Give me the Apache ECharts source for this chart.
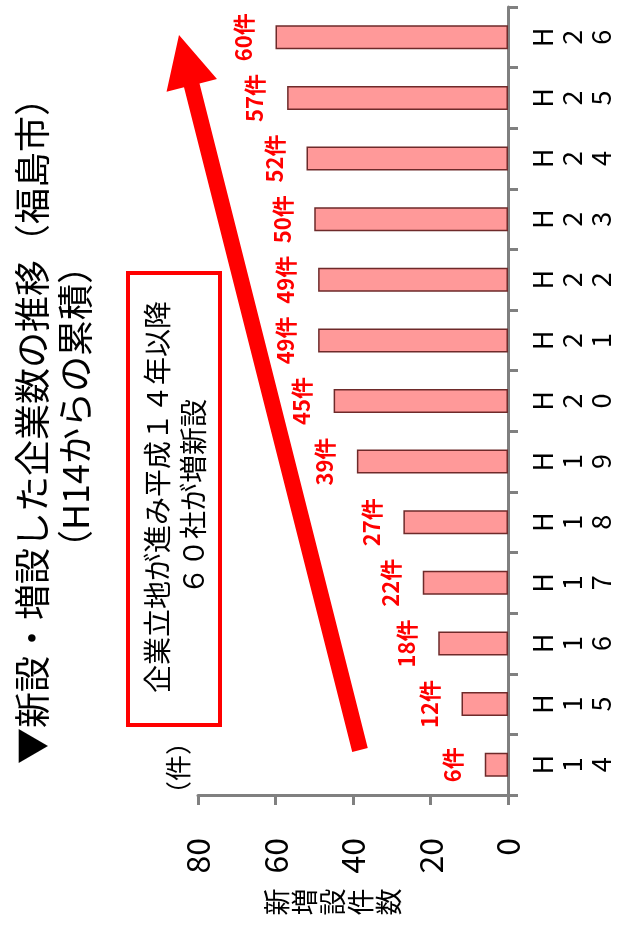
<!DOCTYPE html>
<html>
<head>
<meta charset="utf-8">
<script src="https://cdn.jsdelivr.net/npm/echarts@6/dist/echarts.min.js"></script>
<style>
html,body{margin:0;padding:0;background:#fff;}
#chart{width:637px;height:932px;}
</style>
</head>
<body>
<div id="chart"></div>
<script>
const categories = ['H14','H15','H16','H17','H18','H19','H20','H21','H22','H23','H24','H25','H26'];
const counts = [6, 12, 18, 22, 27, 39, 45, 49, 49, 50, 52, 57, 60];
const valueMin = 0, valueMax = 80, valueStep = 20;
const titleLine1 = '▼新設・増設した企業数の推移（福島市）';
const titleLine2 = '（H14からの累積）';
const axisTitle = '新増設件数';
const unitLabel = '（件）';
const noteText = '企業立地が進み平成１４年以降\n６０社が増新設';

const FONT = '"Noto Sans CJK JP", "Noto Sans", sans-serif';

// arrow decoration geometry
function arrowPoints(tail, tip, shaftHalf, headLen, headHalf) {
  const dx = tip[0] - tail[0], dy = tip[1] - tail[1];
  const L = Math.sqrt(dx * dx + dy * dy);
  const ux = dx / L, uy = dy / L;
  const nx = -uy, ny = ux;
  const bx = tip[0] - ux * headLen, by = tip[1] - uy * headLen;
  return [
    [tail[0] + nx * shaftHalf, tail[1] + ny * shaftHalf],
    [bx + nx * shaftHalf, by + ny * shaftHalf],
    [bx + nx * headHalf, by + ny * headHalf],
    [tip[0], tip[1]],
    [bx - nx * headHalf, by - ny * headHalf],
    [bx - nx * shaftHalf, by - ny * shaftHalf],
    [tail[0] - nx * shaftHalf, tail[1] - ny * shaftHalf]
  ];
}

const chart = echarts.init(document.getElementById('chart'));
const option = {
  backgroundColor: '#fff',
  animation: false,
  grid: { left: 198, right: 129, top: 7, bottom: 137, containLabel: false },
  xAxis: {
    type: 'value',
    inverse: true,
    position: 'bottom',
    min: valueMin, max: valueMax, interval: valueStep,
    splitLine: { show: false },
    axisLine: { show: true, onZero: false, lineStyle: { color: '#808080', width: 3 } },
    axisTick: { show: true, length: 10, lineStyle: { color: '#808080', width: 3 } },
    axisLabel: {
      rotate: 90, margin: 43, fontSize: 32, color: '#000', fontFamily: FONT,
      align: 'right', verticalAlign: 'middle'
    }
  },
  yAxis: {
    type: 'category',
    data: categories,
    position: 'right',
    axisLine: { show: true, onZero: false, lineStyle: { color: '#808080', width: 3 } },
    axisTick: { show: true, length: 10, lineStyle: { color: '#808080', width: 3 } },
    axisLabel: {
      rotate: 90, margin: 20, fontSize: 27, lineHeight: 29, color: '#000', fontFamily: FONT,
      align: 'center', verticalAlign: 'top',
      formatter: v => v.split('').join('\n')
    }
  },
  series: [{
    type: 'bar',
    data: counts,
    barWidth: 24,
    itemStyle: { color: '#FF9999', borderColor: '#6e2a2a', borderWidth: 1.5 },
    label: {
      show: true, position: 'left', distance: 32, rotate: 90,
      align: 'center', verticalAlign: 'middle',
      color: '#FF0000', fontWeight: 'bold', fontSize: 22, fontFamily: FONT,
      formatter: p => p.value + '件'
    }
  }],
  graphic: [
    { type: 'text', x: 32, y: 422, rotation: Math.PI / 2,
      style: { text: titleLine1, fontSize: 36, fontFamily: FONT, fill: '#000', align: 'center', verticalAlign: 'middle' } },
    { type: 'text', x: 75, y: 407, rotation: Math.PI / 2,
      style: { text: titleLine2, fontSize: 36, fontFamily: FONT, fill: '#000', align: 'center', verticalAlign: 'middle' } },
    { type: 'text', x: 333, y: 902, rotation: Math.PI / 2,
      style: { text: axisTitle.split('').join('\n'), fontSize: 27, lineHeight: 28, fontFamily: FONT, fill: '#000', align: 'center', verticalAlign: 'middle' } },
    { type: 'text', x: 178, y: 768, rotation: Math.PI / 2,
      style: { text: unitLabel, fontSize: 26, fontFamily: FONT, fill: '#000', align: 'center', verticalAlign: 'middle' } },
    { type: 'rect', shape: { x: 128, y: 273, width: 92, height: 452 },
      style: { fill: '#fff', stroke: '#FF0000', lineWidth: 4 } },
    { type: 'text', x: 175, y: 497, rotation: Math.PI / 2,
      style: { text: noteText, fontSize: 28, lineHeight: 36, fontFamily: FONT, fill: '#000', align: 'center', verticalAlign: 'middle' } },
    { type: 'polygon', shape: { points: arrowPoints([360, 750], [179, 35], 8, 52, 26) },
      style: { fill: '#FF0000' } }
  ]
};
chart.setOption(option);
</script>
</body>
</html>
